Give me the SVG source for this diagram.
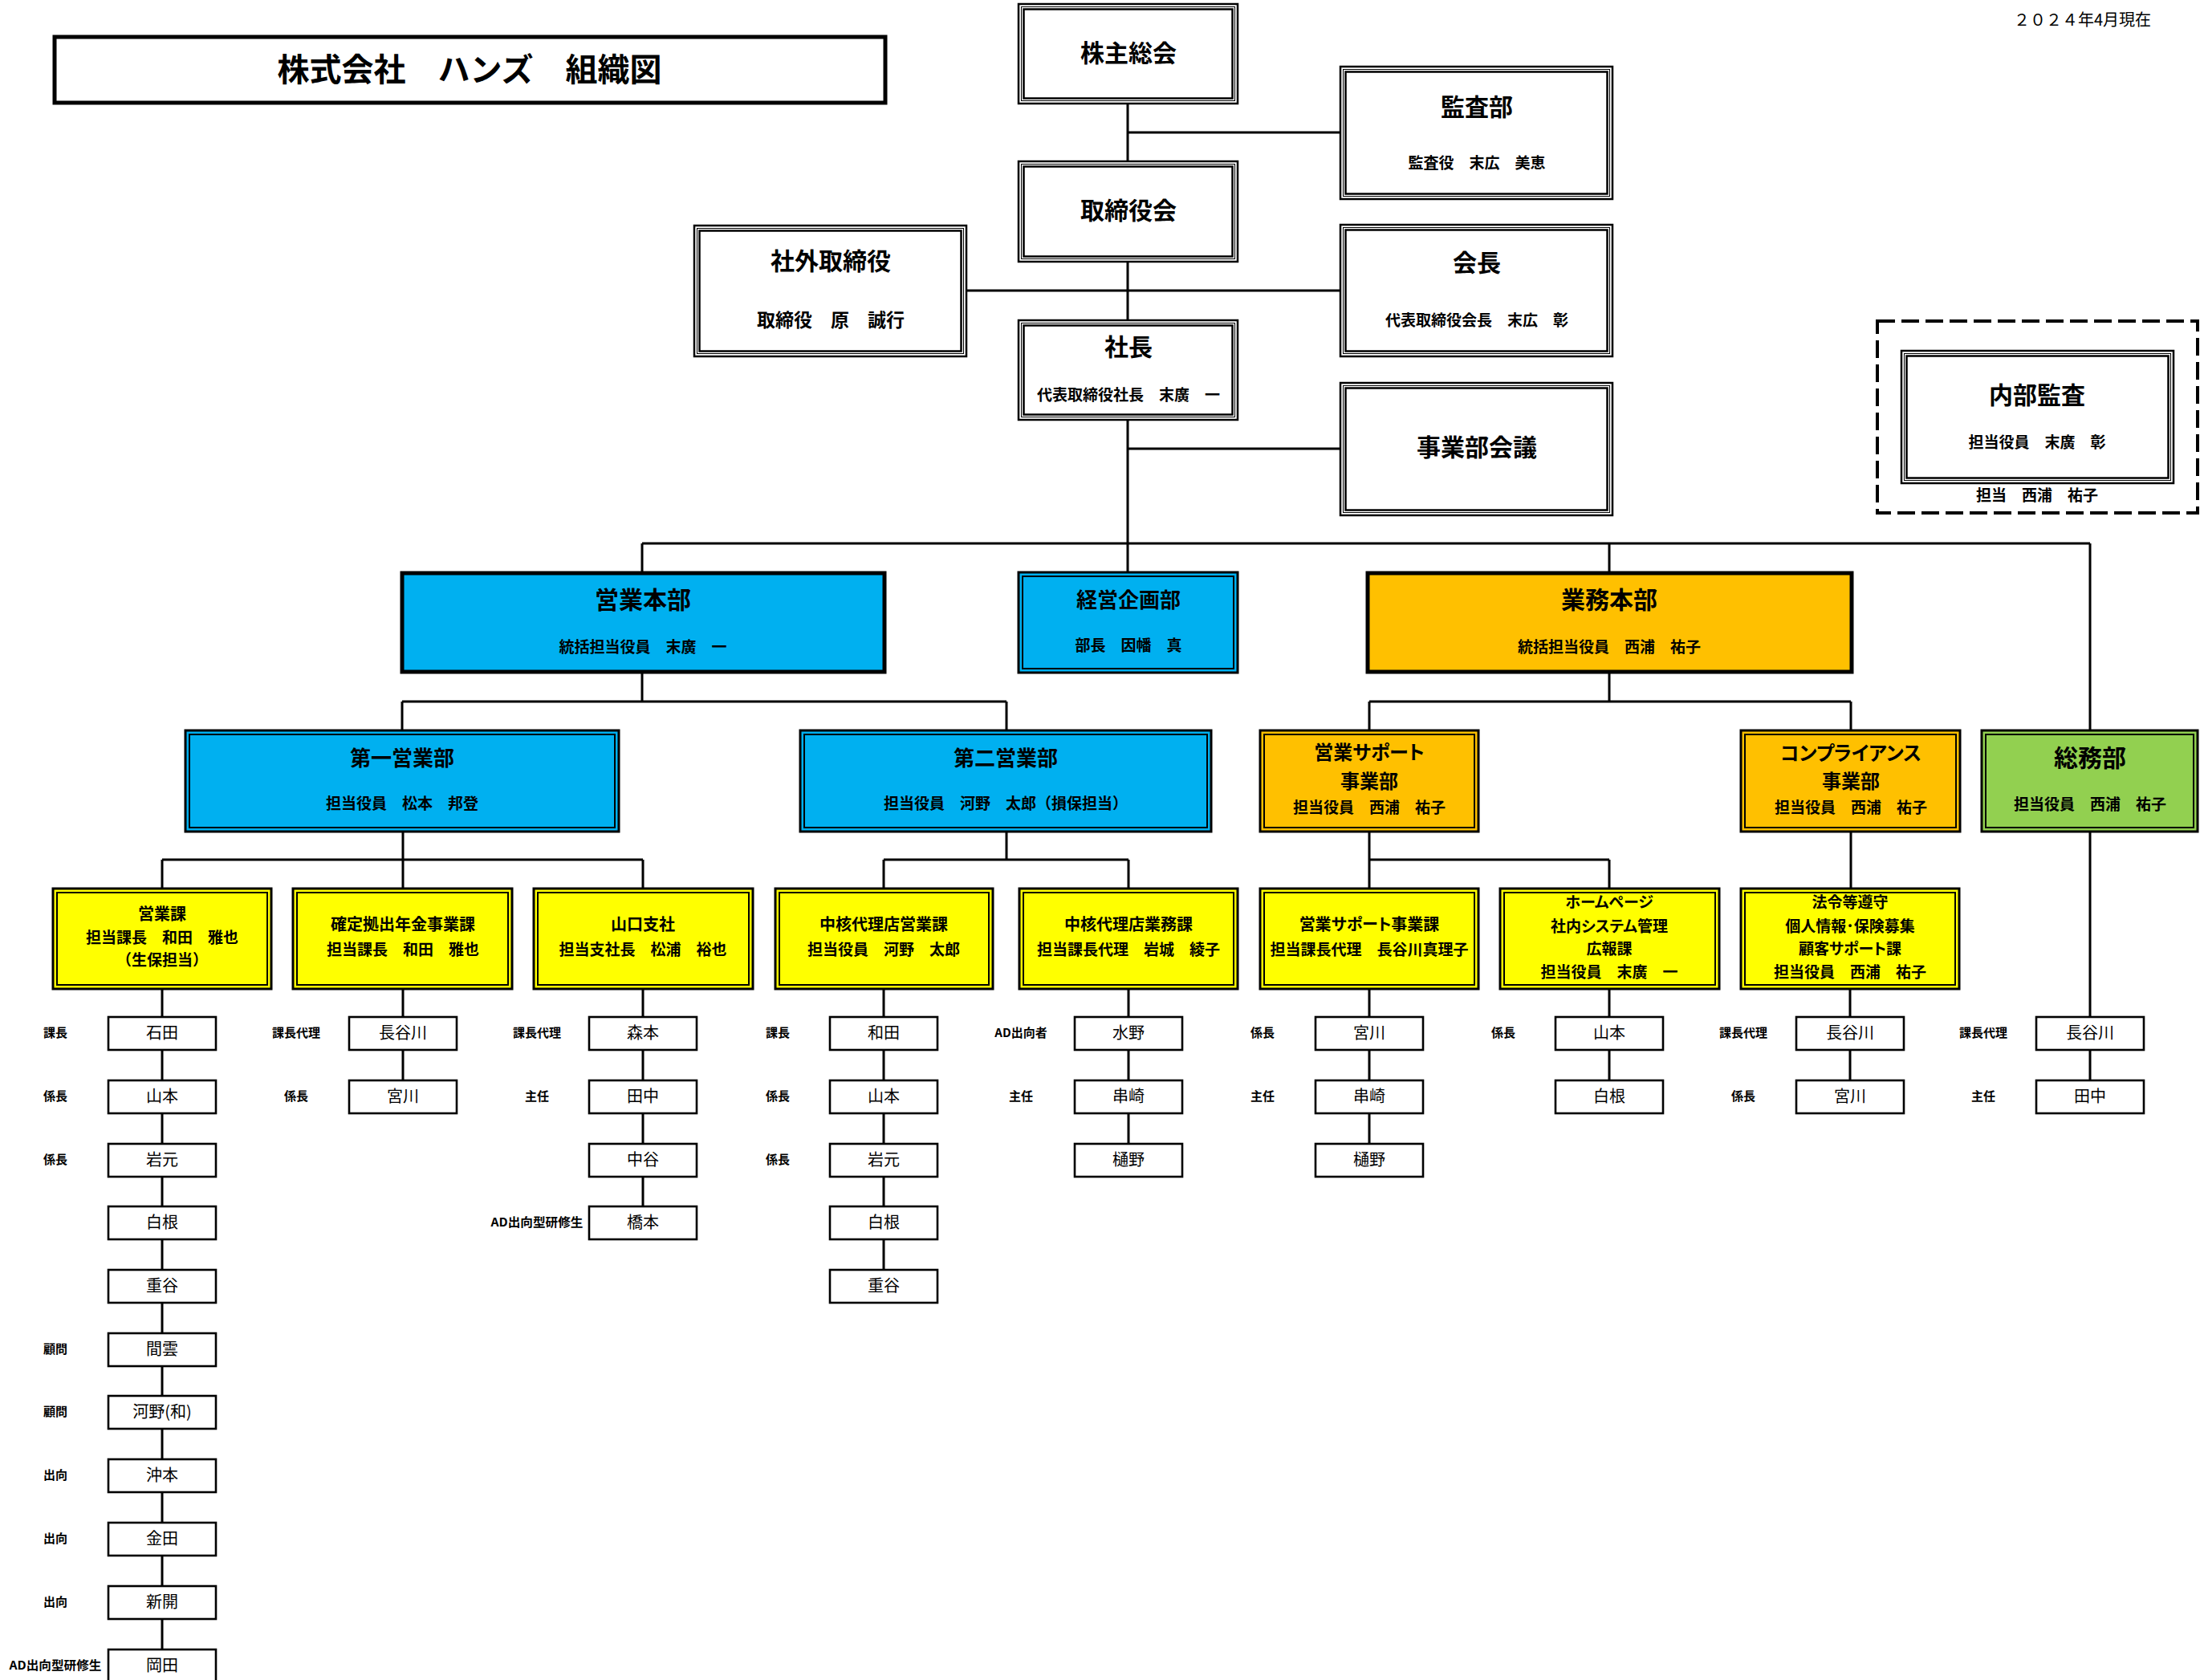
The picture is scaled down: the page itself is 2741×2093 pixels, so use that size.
<svg xmlns="http://www.w3.org/2000/svg" width="2741" height="2093" viewBox="0 0 2741 2093">
<style>
text{font-family:"Noto Sans CJK JP","Noto Sans",sans-serif;text-anchor:middle;dominant-baseline:central;fill:#000;transform:translateY(-3px)}
.b{font-weight:700}
.p{font-feature-settings:"palt"}
.s30{font-size:30px}.s26{font-size:26px}.s24{font-size:24px}.s23{font-size:23px}.s20{font-size:20px}.s19{font-size:19px}.s15{font-size:15px}
.o1{fill:#fff;stroke:#000;stroke-width:2.5}
.o2{fill:none;stroke:#000;stroke-width:1}
.o3{fill:none;stroke:#000;stroke-width:2.5}
.c1{stroke:#000;stroke-width:3}
.c2{fill:none;stroke:#000;stroke-width:2}
.blue{fill:#00B0F0}.org{fill:#FFC000}.yel{fill:#FFFF00}.grn{fill:#92D050}
.hd{stroke:#000;stroke-width:5}
.pb{fill:#fff;stroke:#000;stroke-width:2.6}
.nm{font-size:20px}
.lb{font-size:15px;font-weight:700}
</style>

<g id="connectors" fill="none" stroke="#000" stroke-width="3">
<path d="M1405 129V713 M1405 165H1670 M1204 362H1670 M1405 559H1670"/>
<path d="M800 677H2604 M800 677V714 M2005 677V714 M2604 677V1267"/>
<path d="M800 837V874 M501 874H1254 M501 874V910 M1254 874V910"/>
<path d="M2005 837V874 M1706 874H2306 M1706 874V910 M2306 874V910"/>
<path d="M502 1036V1071 M202 1071H801 M202 1071V1107 M502 1071V1107 M801 1071V1107"/>
<path d="M1254 1036V1071 M1101 1071H1406 M1101 1071V1107 M1406 1071V1107"/>
<path d="M1706 1036V1107 M1706 1071H2005 M2005 1071V1107 M2306 1036V1107"/>
<path d="M202 1232V2060 M502 1232V1346 M801 1232V1504 M1101 1232V1582 M1406 1232V1425 M1706 1232V1425 M2005 1232V1346 M2305 1232V1346 M2604 1267V1346"/>
</g>

<g id="title">
<rect x="68" y="46" width="1035" height="82" fill="none" stroke="#000" stroke-width="5"/>
<text x="585" y="87" class="b" font-size="40">株式会社　ハンズ　組織図</text>
</g>
<g id="date"><text x="2680" y="26" font-size="20" style="text-anchor:end">２０２４年4月現在</text></g>

<g id="kabunushi">
<rect class="o1" x="1269" y="5" width="273" height="124"/><rect class="o2" x="1272.5" y="8.5" width="266" height="117"/><rect class="o3" x="1275.5" y="11.5" width="260" height="111"/>
<text x="1406" y="67" class="b s30">株主総会</text>
</g>
<g id="torishimariyakukai">
<rect class="o1" x="1269" y="201" width="273" height="125"/><rect class="o2" x="1272.5" y="204.5" width="266" height="118"/><rect class="o3" x="1275.5" y="207.5" width="260" height="112"/>
<text x="1406" y="263" class="b s30">取締役会</text>
</g>
<g id="shacho">
<rect class="o1" x="1269" y="399" width="273" height="124"/><rect class="o2" x="1272.5" y="402.5" width="266" height="117"/><rect class="o3" x="1275.5" y="405.5" width="260" height="111"/>
<text x="1406" y="433" class="b s30">社長</text>
<text x="1406" y="493" class="b s19">代表取締役社長　末廣　一</text>
</g>
<g id="kansabu">
<rect class="o1" x="1670" y="83" width="339" height="165"/><rect class="o2" x="1673.5" y="86.5" width="332" height="158"/><rect class="o3" x="1676.5" y="89.5" width="326" height="152"/>
<text x="1840" y="134" class="b s30">監査部</text>
<text x="1840" y="204" class="b s19">監査役　末広　美恵</text>
</g>
<g id="kaicho">
<rect class="o1" x="1670" y="280" width="339" height="164"/><rect class="o2" x="1673.5" y="283.5" width="332" height="157"/><rect class="o3" x="1676.5" y="286.5" width="326" height="151"/>
<text x="1840" y="328" class="b s30">会長</text>
<text x="1840" y="400" class="b s19">代表取締役会長　末広　彰</text>
</g>
<g id="jigyobukaigi">
<rect class="o1" x="1670" y="477" width="339" height="165"/><rect class="o2" x="1673.5" y="480.5" width="332" height="158"/><rect class="o3" x="1676.5" y="483.5" width="326" height="152"/>
<text x="1840" y="558" class="b s30">事業部会議</text>
</g>
<g id="shagai">
<rect class="o1" x="865" y="281" width="339" height="163"/><rect class="o2" x="868.5" y="284.5" width="332" height="156"/><rect class="o3" x="871.5" y="287.5" width="326" height="150"/>
<text x="1035" y="326" class="b s30">社外取締役</text>
<text x="1035" y="400" class="b s23">取締役　原　誠行</text>
</g>
<g id="naibukansa">
<rect x="2339" y="400" width="399" height="239" fill="none" stroke="#000" stroke-width="4" stroke-dasharray="22 8"/>
<rect class="o1" x="2369" y="437" width="339" height="165"/><rect class="o2" x="2372.5" y="440.5" width="332" height="158"/><rect class="o3" x="2375.5" y="443.5" width="326" height="152"/>
<text x="2538" y="493" class="b s30">内部監査</text>
<text x="2538" y="552" class="b s19">担当役員　末廣　彰</text>
<text x="2538" y="618" class="b s19">担当　西浦　祐子</text>
</g>

<g id="eigyohonbu">
<rect class="blue hd" x="501" y="714" width="601" height="123"/>
<text x="801" y="748" class="b s30">営業本部</text>
<text x="801" y="807" class="b s19">統括担当役員　末廣　一</text>
</g>
<g id="keiei">
<rect class="blue c1" x="1269" y="713" width="273" height="125"/><rect class="c2" x="1274" y="718" width="263" height="115"/>
<text x="1406" y="748" class="b s26">経営企画部</text>
<text x="1406" y="805" class="b s19">部長　因幡　真</text>
</g>
<g id="gyomuhonbu">
<rect class="org hd" x="1704" y="714" width="603" height="123"/>
<text x="2005" y="748" class="b s30">業務本部</text>
<text x="2005" y="807" class="b s19">統括担当役員　西浦　祐子</text>
</g>

<g id="daiichi">
<rect class="blue c1" x="231" y="910" width="540" height="126"/><rect class="c2" x="236" y="915" width="530" height="116"/>
<text x="501" y="945" class="b s26">第一営業部</text>
<text x="501" y="1002" class="b s19">担当役員　松本　邦登</text>
</g>
<g id="daini">
<rect class="blue c1" x="997" y="910" width="512" height="126"/><rect class="c2" x="1002" y="915" width="502" height="116"/>
<text x="1253" y="945" class="b s26">第二営業部</text>
<text x="1253" y="1002" class="b s19">担当役員　河野　太郎（損保担当）</text>
</g>
<g id="eigyosupport">
<rect class="org c1" x="1570" y="910" width="272" height="126"/><rect class="c2" x="1575" y="915" width="262" height="116"/>
<text x="1706" y="938" class="b s24 p">営業サポート</text>
<text x="1706" y="974" class="b s24">事業部</text>
<text x="1706" y="1007" class="b s19">担当役員　西浦　祐子</text>
</g>
<g id="compliance">
<rect class="org c1" x="2169" y="910" width="273" height="126"/><rect class="c2" x="2174" y="915" width="263" height="116"/>
<text x="2306" y="939" class="b s24 p">コンプライアンス</text>
<text x="2306" y="974" class="b s24">事業部</text>
<text x="2306" y="1007" class="b s19">担当役員　西浦　祐子</text>
</g>
<g id="somubu">
<rect class="grn c1" x="2469" y="910" width="269" height="126"/><rect class="c2" x="2474" y="915" width="259" height="116"/>
<text x="2604" y="945" class="b s30">総務部</text>
<text x="2604" y="1003" class="b s19">担当役員　西浦　祐子</text>
</g>

<g id="eigyoka">
<rect class="yel c1" x="66" y="1107" width="272" height="125"/><rect class="c2" x="71" y="1112" width="262" height="115"/>
<text x="202" y="1140" class="b s20">営業課</text>
<text x="202" y="1169" class="b s19">担当課長　和田　雅也</text>
<text x="202" y="1197" class="b s19">（生保担当）</text>
</g>
<g id="kakutei">
<rect class="yel c1" x="365" y="1107" width="273" height="125"/><rect class="c2" x="370" y="1112" width="263" height="115"/>
<text x="502" y="1153" class="b s20">確定拠出年金事業課</text>
<text x="502" y="1184" class="b s19">担当課長　和田　雅也</text>
</g>
<g id="yamaguchi">
<rect class="yel c1" x="665" y="1107" width="273" height="125"/><rect class="c2" x="670" y="1112" width="263" height="115"/>
<text x="801" y="1153" class="b s20">山口支社</text>
<text x="801" y="1184" class="b s19">担当支社長　松浦　裕也</text>
</g>
<g id="chukaku-eigyo">
<rect class="yel c1" x="966" y="1107" width="271" height="125"/><rect class="c2" x="971" y="1112" width="261" height="115"/>
<text x="1101" y="1153" class="b s20">中核代理店営業課</text>
<text x="1101" y="1184" class="b s19">担当役員　河野　太郎</text>
</g>
<g id="chukaku-gyomu">
<rect class="yel c1" x="1270" y="1107" width="272" height="125"/><rect class="c2" x="1275" y="1112" width="262" height="115"/>
<text x="1406" y="1153" class="b s20">中核代理店業務課</text>
<text x="1406" y="1184" class="b s19">担当課長代理　岩城　綾子</text>
</g>
<g id="support-ka">
<rect class="yel c1" x="1570" y="1107" width="272" height="125"/><rect class="c2" x="1575" y="1112" width="262" height="115"/>
<text x="1706" y="1153" class="b s20 p">営業サポート事業課</text>
<text x="1706" y="1184" class="b s19">担当課長代理　長谷川真理子</text>
</g>
<g id="homepage">
<rect class="yel c1" x="1869" y="1107" width="273" height="125"/><rect class="c2" x="1874" y="1112" width="263" height="115"/>
<text x="2005" y="1125" class="b s19 p">ホームページ</text>
<text x="2005" y="1155" class="b s19 p">社内システム管理</text>
<text x="2005" y="1183" class="b s19">広報課</text>
<text x="2005" y="1212" class="b s19">担当役員　末廣　一</text>
</g>
<g id="horei">
<rect class="yel c1" x="2169" y="1107" width="272" height="125"/><rect class="c2" x="2174" y="1112" width="262" height="115"/>
<text x="2305" y="1125" class="b s19">法令等遵守</text>
<text x="2305" y="1155" class="b s19 p">個人情報･保険募集</text>
<text x="2305" y="1183" class="b s19 p">顧客サポート課</text>
<text x="2305" y="1212" class="b s19">担当役員　西浦　祐子</text>
</g>

<g id="staff-A">
<rect class="pb" x="135" y="1267" width="134" height="41"/><text class="nm" x="202" y="1288">石田</text><text class="lb" x="69" y="1288">課長</text>
<rect class="pb" x="135" y="1346" width="134" height="41"/><text class="nm" x="202" y="1367">山本</text><text class="lb" x="69" y="1367">係長</text>
<rect class="pb" x="135" y="1425" width="134" height="41"/><text class="nm" x="202" y="1446">岩元</text><text class="lb" x="69" y="1446">係長</text>
<rect class="pb" x="135" y="1503" width="134" height="41"/><text class="nm" x="202" y="1524">白根</text>
<rect class="pb" x="135" y="1582" width="134" height="41"/><text class="nm" x="202" y="1603">重谷</text>
<rect class="pb" x="135" y="1661" width="134" height="41"/><text class="nm" x="202" y="1682">間雲</text><text class="lb" x="69" y="1682">顧問</text>
<rect class="pb" x="135" y="1739" width="134" height="41"/><text class="nm" x="202" y="1760">河野(和)</text><text class="lb" x="69" y="1760">顧問</text>
<rect class="pb" x="135" y="1818" width="134" height="41"/><text class="nm" x="202" y="1839">沖本</text><text class="lb" x="69" y="1839">出向</text>
<rect class="pb" x="135" y="1897" width="134" height="41"/><text class="nm" x="202" y="1918">金田</text><text class="lb" x="69" y="1918">出向</text>
<rect class="pb" x="135" y="1976" width="134" height="41"/><text class="nm" x="202" y="1997">新開</text><text class="lb" x="69" y="1997">出向</text>
<rect class="pb" x="135" y="2055" width="134" height="41"/><text class="nm" x="202" y="2076">岡田</text><text class="lb" x="69" y="2076" textLength="115" lengthAdjust="spacingAndGlyphs">AD出向型研修生</text>
</g>
<g id="staff-B">
<rect class="pb" x="435" y="1267" width="134" height="41"/><text class="nm" x="502" y="1288">長谷川</text><text class="lb" x="369" y="1288">課長代理</text>
<rect class="pb" x="435" y="1346" width="134" height="41"/><text class="nm" x="502" y="1367">宮川</text><text class="lb" x="369" y="1367">係長</text>
</g>
<g id="staff-C">
<rect class="pb" x="734" y="1267" width="134" height="41"/><text class="nm" x="801" y="1288">森本</text><text class="lb" x="669" y="1288">課長代理</text>
<rect class="pb" x="734" y="1346" width="134" height="41"/><text class="nm" x="801" y="1367">田中</text><text class="lb" x="669" y="1367">主任</text>
<rect class="pb" x="734" y="1425" width="134" height="41"/><text class="nm" x="801" y="1446">中谷</text>
<rect class="pb" x="734" y="1503" width="134" height="41"/><text class="nm" x="801" y="1524">橋本</text><text class="lb" x="669" y="1524" textLength="115" lengthAdjust="spacingAndGlyphs">AD出向型研修生</text>
</g>
<g id="staff-D">
<rect class="pb" x="1034" y="1267" width="134" height="41"/><text class="nm" x="1101" y="1288">和田</text><text class="lb" x="969" y="1288">課長</text>
<rect class="pb" x="1034" y="1346" width="134" height="41"/><text class="nm" x="1101" y="1367">山本</text><text class="lb" x="969" y="1367">係長</text>
<rect class="pb" x="1034" y="1425" width="134" height="41"/><text class="nm" x="1101" y="1446">岩元</text><text class="lb" x="969" y="1446">係長</text>
<rect class="pb" x="1034" y="1503" width="134" height="41"/><text class="nm" x="1101" y="1524">白根</text>
<rect class="pb" x="1034" y="1582" width="134" height="41"/><text class="nm" x="1101" y="1603">重谷</text>
</g>
<g id="staff-E">
<rect class="pb" x="1339" y="1267" width="134" height="41"/><text class="nm" x="1406" y="1288">水野</text><text class="lb" x="1272" y="1288">AD出向者</text>
<rect class="pb" x="1339" y="1346" width="134" height="41"/><text class="nm" x="1406" y="1367">串崎</text><text class="lb" x="1272" y="1367">主任</text>
<rect class="pb" x="1339" y="1425" width="134" height="41"/><text class="nm" x="1406" y="1446">樋野</text>
</g>
<g id="staff-F">
<rect class="pb" x="1639" y="1267" width="134" height="41"/><text class="nm" x="1706" y="1288">宮川</text><text class="lb" x="1573" y="1288">係長</text>
<rect class="pb" x="1639" y="1346" width="134" height="41"/><text class="nm" x="1706" y="1367">串崎</text><text class="lb" x="1573" y="1367">主任</text>
<rect class="pb" x="1639" y="1425" width="134" height="41"/><text class="nm" x="1706" y="1446">樋野</text>
</g>
<g id="staff-G">
<rect class="pb" x="1938" y="1267" width="134" height="41"/><text class="nm" x="2005" y="1288">山本</text><text class="lb" x="1873" y="1288">係長</text>
<rect class="pb" x="1938" y="1346" width="134" height="41"/><text class="nm" x="2005" y="1367">白根</text>
</g>
<g id="staff-H">
<rect class="pb" x="2238" y="1267" width="134" height="41"/><text class="nm" x="2305" y="1288">長谷川</text><text class="lb" x="2172" y="1288">課長代理</text>
<rect class="pb" x="2238" y="1346" width="134" height="41"/><text class="nm" x="2305" y="1367">宮川</text><text class="lb" x="2172" y="1367">係長</text>
</g>
<g id="staff-I">
<rect class="pb" x="2537" y="1267" width="134" height="41"/><text class="nm" x="2604" y="1288">長谷川</text><text class="lb" x="2471" y="1288">課長代理</text>
<rect class="pb" x="2537" y="1346" width="134" height="41"/><text class="nm" x="2604" y="1367">田中</text><text class="lb" x="2471" y="1367">主任</text>
</g>
</svg>
